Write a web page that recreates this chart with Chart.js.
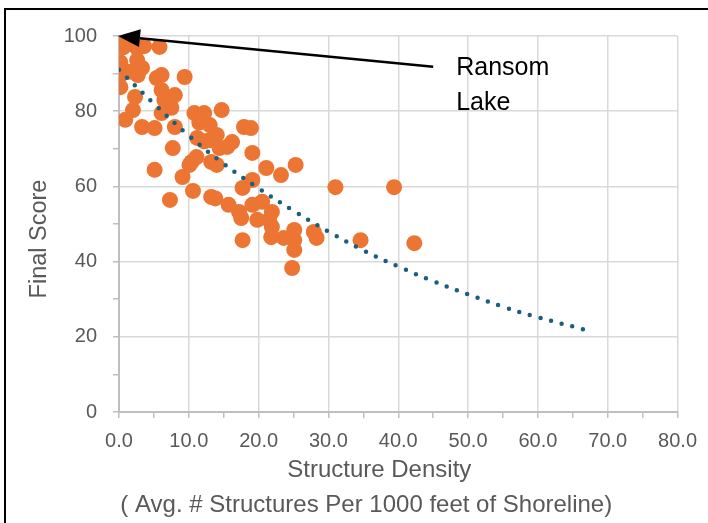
<!DOCTYPE html>
<html>
<head>
<meta charset="utf-8">
<script src="https://cdn.jsdelivr.net/npm/chart.js@4/dist/chart.umd.min.js"></script>
<style>
  body { margin: 0; background: #fff; overflow: hidden; }
  #wrap { position: relative; width: 708px; height: 523px; }
  #frame { position: absolute; left: 4px; top: 8px; width: 900px; height: 900px; border: 2px solid #000; box-sizing: border-box; pointer-events: none; }
  canvas { position: absolute; left: 0; top: 0; }
</style>
</head>
<body>
<div id="wrap">
  <canvas id="chart" width="708" height="523"></canvas>
  <div id="frame"></div>
</div>
<script>
// structure density (avg # structures per 1000 ft of shoreline) per lake
const densityValues = [
  0.3, 0.6, 2.6, 5.8, 1.9, 3.6, 0.2, 2.6, 3.3, 0.2, 2.7, 9.4, 6.1, 0.2,
  2.3, 6.1, 8.0, 6.5, 5.4, 7.3, 2.0, 0.9, 3.3, 5.1, 6.1, 7.5, 8.0, 7.7,
  10.8, 11.2, 5.1, 10.4, 9.1, 12.2, 14.7, 13.0, 17.9, 18.9, 13.0, 16.2, 14.4, 11.1,
  13.2, 10.1, 14.0, 10.6, 13.2, 13.8, 17.7, 19.1, 19.1, 21.1, 23.2, 25.3, 7.3, 15.7,
  17.2, 17.5, 19.1, 20.5, 21.9, 19.8, 21.5, 21.9, 21.8, 17.7, 23.6, 25.1, 25.1, 25.1,
  24.8, 27.9, 28.3, 31.0, 34.6, 39.4, 42.3, 11.5, 14.0, 12.2, 15.5, 1.6
];
// final score per lake
const scoreValues = [
  100, 97, 96.8, 97.1, 97.8, 97.3, 93, 93.6, 91.5, 89.6, 89.6, 89.1, 89.6, 86.4,
  83.8, 85.6, 84.3, 83, 88.8, 82, 80.3, 77.7, 75.8, 75.5, 79.5, 80.9, 75.8, 70.2,
  79.5, 72.9, 64.4, 66.5, 62.5, 79.5, 80.3, 76.3, 75.8, 75.5, 72.3, 71.8, 70.2, 67.8,
  66.5, 65.7, 65.7, 58.8, 57.2, 56.8, 59.6, 61.7, 68.9, 64.9, 63.0, 65.7, 56.4, 55.1,
  53.2, 51.6, 55.1, 55.9, 53.2, 51.1, 51.1, 49.2, 46.5, 45.7, 46.3, 48.4, 45.7, 43.1,
  38.3, 47.9, 46.3, 59.8, 45.7, 59.8, 44.9, 77, 73.7, 72.0, 70.5, 90.5
];

// dotted trendline
const trendX = [0, 5, 10, 15, 20, 25, 30, 35, 40, 45, 50, 55, 60, 66.5];
const trendY = [91, 82, 73.5, 66, 59.5, 53.5, 48, 43, 38.7, 34.8, 31.3, 28, 25.2, 22];

// "Ransom Lake" callout (data coords)
const calloutTip = { x: 0, y: 100 };
const calloutTail = { x: 45, y: 91.8 };
const calloutLines = ['Ransom', 'Lake'];
const calloutText = { x: 48.3, y: 91.4 };

const xTitleLines = ['Structure Density', '( Avg. # Structures Per 1000 feet of Shoreline)'];
const yTitle = 'Final Score';

const ORANGE = '#EC7533';
const TREND = '#1B5E7E';
const GRID = '#d9d9d9';
const AXIS = '#bfbfbf';
const TEXT = '#595959';
const FONT = "'Liberation Sans', Arial, sans-serif";

Chart.defaults.font.family = FONT;
Chart.defaults.color = TEXT;

const scatterData = densityValues.map((x, i) => ({ x, y: scoreValues[i] }));
const trendData = trendX.map((x, i) => ({ x, y: trendY[i] }));

// arrow + label for Ransom Lake
const calloutPlugin = {
  id: 'callout',
  afterDatasetsDraw(chart) {
    const { ctx, scales: { x, y } } = chart;
    const tx = x.getPixelForValue(calloutTip.x) - 1, ty = y.getPixelForValue(calloutTip.y);
    const sx = x.getPixelForValue(calloutTail.x), sy = y.getPixelForValue(calloutTail.y);
    const ang = Math.atan2(ty - sy, tx - sx);
    const headLen = 22, headW = 9;
    const bx = tx - Math.cos(ang) * headLen, by = ty - Math.sin(ang) * headLen;
    ctx.save();
    ctx.strokeStyle = '#000';
    ctx.fillStyle = '#000';
    ctx.lineWidth = 2.5;
    ctx.beginPath();
    ctx.moveTo(sx, sy);
    ctx.lineTo(bx, by);
    ctx.stroke();
    ctx.beginPath();
    ctx.moveTo(tx, ty);
    ctx.lineTo(bx + Math.sin(ang) * headW, by - Math.cos(ang) * headW);
    ctx.lineTo(bx - Math.sin(ang) * headW, by + Math.cos(ang) * headW);
    ctx.closePath();
    ctx.fill();

    ctx.font = '25px ' + FONT;
    ctx.textBaseline = 'middle';
    ctx.textAlign = 'left';
    const lx = x.getPixelForValue(calloutText.x), ly = y.getPixelForValue(calloutText.y);
    calloutLines.forEach((t, i) => ctx.fillText(t, lx, ly + i * 35));
    ctx.restore();
  }
};

// axis titles, placed like the Excel original (slightly left of the plot centre)
const axisTitlePlugin = {
  id: 'axisTitles',
  afterDraw(chart) {
    const { ctx, chartArea } = chart;
    const mid = (chartArea.left + chartArea.right) / 2;
    ctx.save();
    ctx.fillStyle = TEXT;
    ctx.textAlign = 'center';
    ctx.textBaseline = 'middle';
    ctx.font = '24px ' + FONT;
    ctx.fillText(xTitleLines[0], mid - 19, chartArea.bottom + 58);
    ctx.fillText(xTitleLines[1], mid - 32, chartArea.bottom + 93);
    ctx.font = '23.5px ' + FONT;
    ctx.translate(40, (chartArea.top + chartArea.bottom) / 2 + 15);
    ctx.rotate(-Math.PI / 2);
    ctx.fillText(yTitle, 0, 0);
    ctx.restore();
  }
};

new Chart(document.getElementById('chart'), {
  type: 'scatter',
  data: {
    datasets: [
      {
        type: 'line',
        data: trendData,
        borderColor: TREND,
        borderWidth: 4.5,
        borderDash: [0, 11],
        borderCapStyle: 'round',
        pointRadius: 0,
        fill: false,
        tension: 0.4,
        order: 0
      },
      {
        data: scatterData,
        backgroundColor: ORANGE,
        borderWidth: 0,
        pointRadius: 8,
        pointHoverRadius: 8,
        order: 1
      }
    ]
  },
  options: {
    responsive: false,
    animation: false,
    layout: { padding: { left: 0, top: 36, right: 27, bottom: 0 } },
    plugins: {
      legend: { display: false },
      tooltip: { enabled: false }
    },
    scales: {
      x: {
        type: 'linear',
        min: 0,
        max: 80,
        afterFit: (s) => { s.height = 111; },
        ticks: {
          stepSize: 5,
          padding: 11,
          maxRotation: 0,
          autoSkip: false,
          font: { size: 20 },
          color: TEXT,
          callback: (v) => (v % 10 === 0 ? v.toFixed(1) : '')
        },
        grid: {
          color: (c) => (c.tick && c.tick.value % 10 === 0 ? GRID : 'rgba(0,0,0,0)'),
          lineWidth: 1.5,
          tickColor: AXIS,
          tickLength: 6
        },
        border: { color: AXIS, width: 2 }
      },
      y: {
        min: 0,
        max: 100,
        afterFit: (s) => { s.width = 119; },
        ticks: {
          stepSize: 10,
          padding: 16,
          font: { size: 20 },
          color: TEXT,
          callback: (v) => (v % 20 === 0 ? String(v) : '')
        },
        grid: {
          color: (c) => (c.tick && c.tick.value % 20 === 0 ? GRID : 'rgba(0,0,0,0)'),
          lineWidth: 1.5,
          tickColor: AXIS,
          tickLength: 6
        },
        border: { color: AXIS, width: 2 }
      }
    }
  },
  plugins: [calloutPlugin, axisTitlePlugin]
});
</script>
</body>
</html>
